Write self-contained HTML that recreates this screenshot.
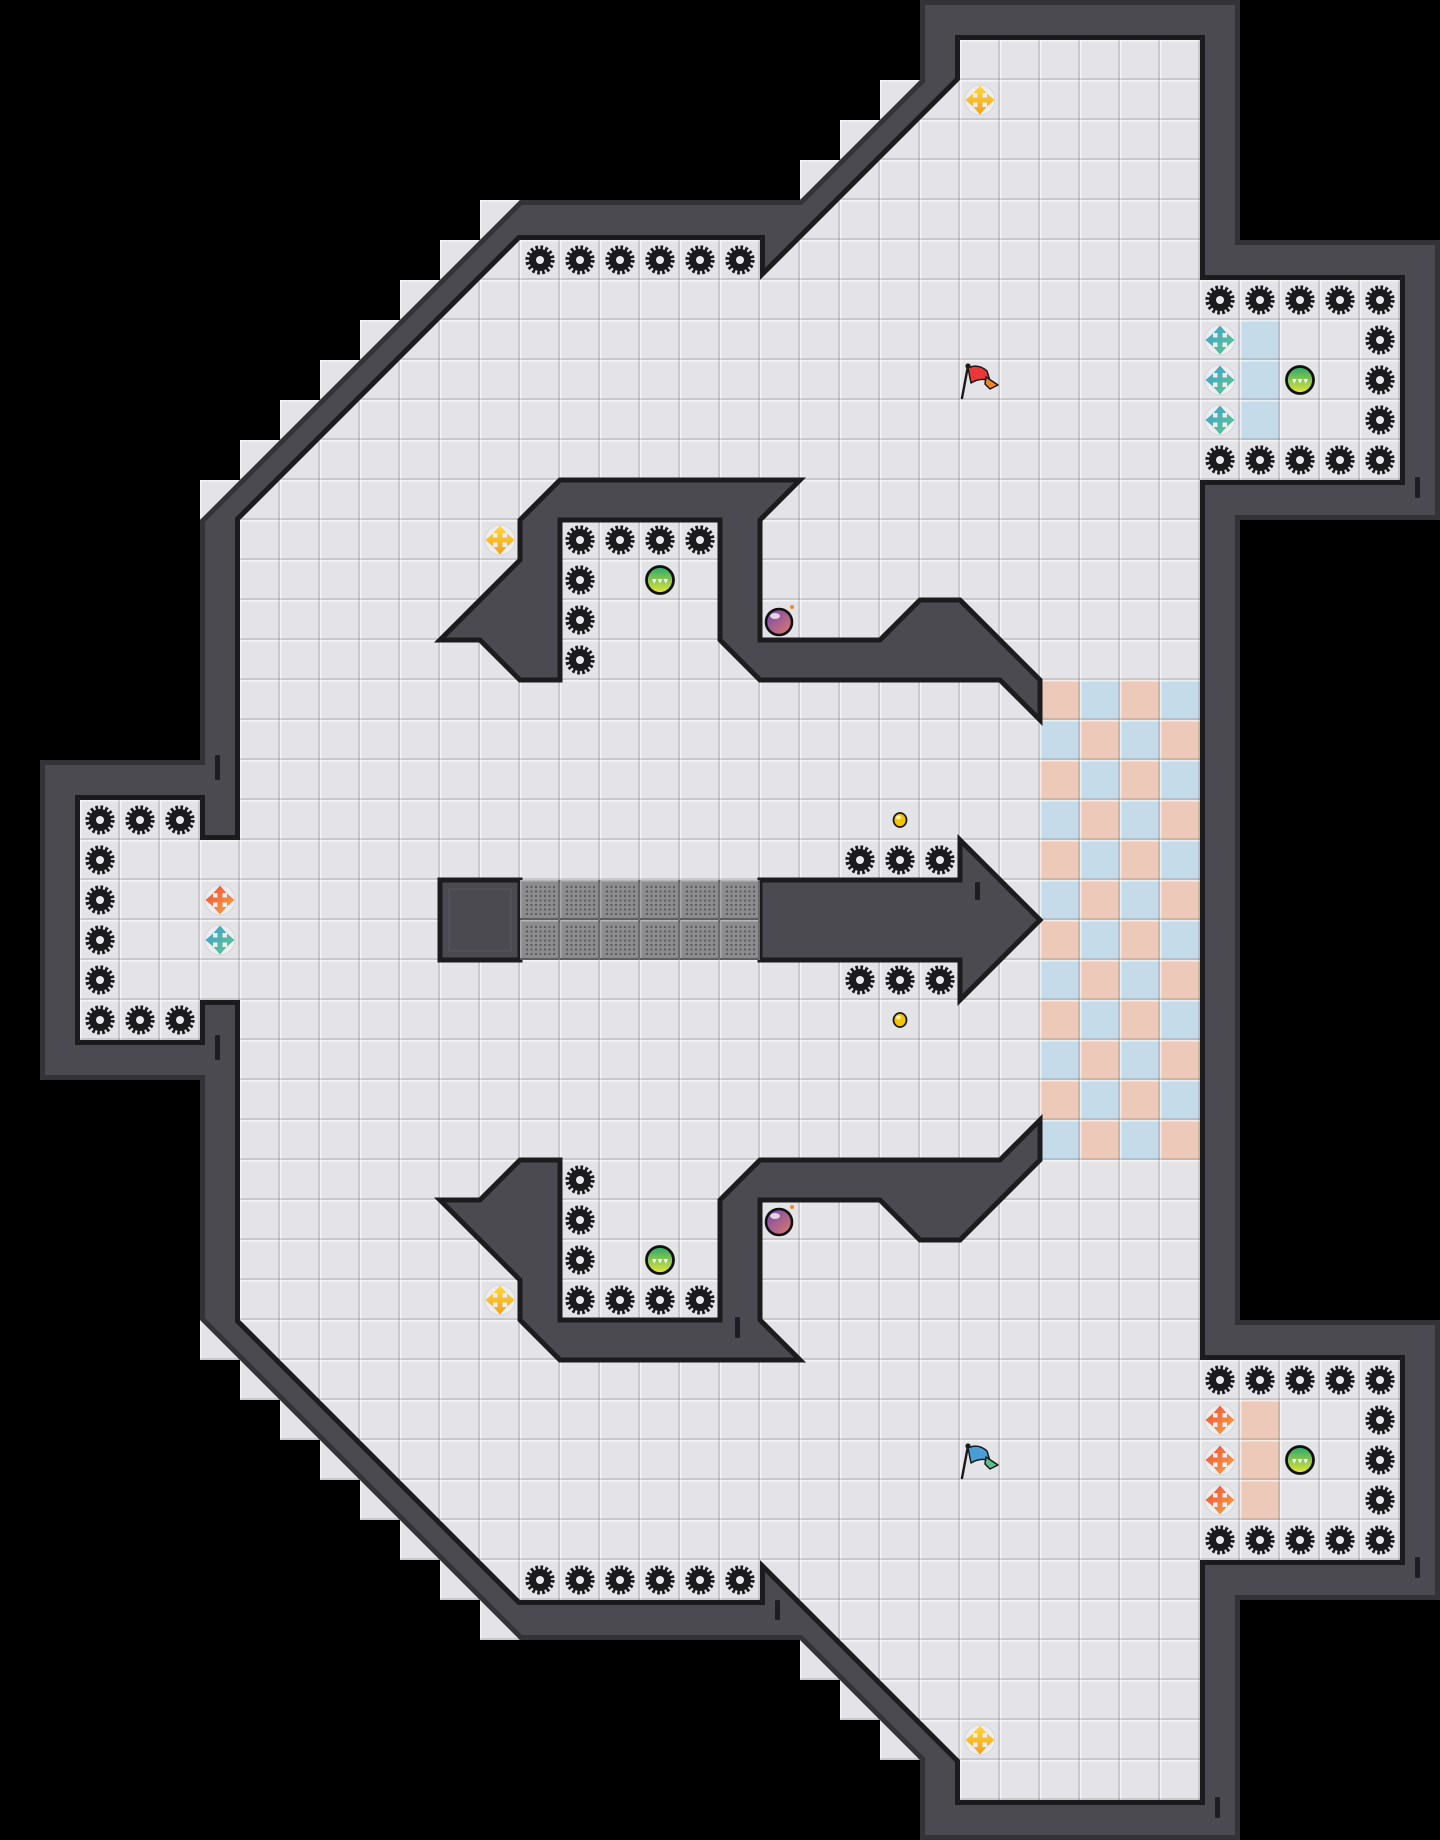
<!DOCTYPE html>
<html>
<head>
<meta charset="utf-8">
<style>
html,body{margin:0;padding:0;background:#000;}
svg{display:block;}
</style>
</head>
<body>
<svg xmlns="http://www.w3.org/2000/svg" width="1440" height="1840" viewBox="0 0 1440 1840">
<defs>
  <pattern id="bev" width="40" height="40" patternUnits="userSpaceOnUse">
    <rect x="0" y="0" width="40" height="1.5" fill="#ffffff" fill-opacity="0.6"/>
    <rect x="0" y="0" width="1.5" height="40" fill="#ffffff" fill-opacity="0.6"/>
    <rect x="0" y="38" width="40" height="2" fill="#000" fill-opacity="0.12"/>
    <rect x="38" y="0" width="2" height="40" fill="#000" fill-opacity="0.12"/>
  </pattern>
  <pattern id="chk" width="80" height="80" patternUnits="userSpaceOnUse">
    <rect x="0" y="0" width="80" height="80" fill="#c6dbe9"/>
    <rect x="40" y="0" width="40" height="40" fill="#ecc9b8"/>
    <rect x="0" y="40" width="40" height="40" fill="#ecc9b8"/>
  </pattern>
  <pattern id="grate" width="40" height="40" patternUnits="userSpaceOnUse">
    <rect x="0" y="0" width="40" height="40" fill="#8c8c8f"/>
    <rect x="0" y="0" width="40" height="1.5" fill="#b4b4b6"/>
    <rect x="0" y="0" width="1.5" height="40" fill="#a8a8aa"/>
    <rect x="0" y="38" width="40" height="2" fill="#5e5e61"/>
    <rect x="38" y="0" width="2" height="40" fill="#6a6a6d"/>
    <path d="M6 7H36M6 11.5H36M6 16H36M6 20.5H36M6 25H36M6 29.5H36M6 34H36" stroke="#5c5c5f" stroke-width="2" stroke-dasharray="2 2.5"/>
  </pattern>
  <clipPath id="oc">
    <polygon points="920,0 1240,0 1240,240 1440,240 1440,520 1240,520 1240,1320 1440,1320 1440,1600 1240,1600 1240,1840 920,1840 920,1760 800,1640 520,1640 200,1320 200,1080 40,1080 40,760 200,760 200,520 520,200 800,200 920,80"/>
  </clipPath>
  <clipPath id="fc">
    <polygon points="960,40 1200,40 1200,280 1400,280 1400,480 1200,480 1200,1360 1400,1360 1400,1560 1200,1560 1200,1800 960,1800 960,1760 760,1560 760,1600 520,1600 240,1320 240,1000 200,1000 200,1040 80,1040 80,800 200,800 200,840 240,840 240,520 520,240 760,240 760,280 960,80"/>
  </clipPath>
  <linearGradient id="gy" x1="0" y1="0" x2="0" y2="1"><stop offset="0" stop-color="#ffd93c"/><stop offset="1" stop-color="#f2a01a"/></linearGradient>
  <linearGradient id="gt" x1="0" y1="0" x2="1" y2="1"><stop offset="0" stop-color="#3f9dd2"/><stop offset="1" stop-color="#5fca88"/></linearGradient>
  <linearGradient id="go" x1="0" y1="0" x2="1" y2="1"><stop offset="0" stop-color="#ee4c3a"/><stop offset="1" stop-color="#f8a842"/></linearGradient>
  <linearGradient id="gb" x1="0" y1="0" x2="0" y2="1"><stop offset="0" stop-color="#27a866"/><stop offset="1" stop-color="#e8e63a"/></linearGradient>
  <linearGradient id="gp" x1="0" y1="0" x2="1" y2="1"><stop offset="0" stop-color="#6f46b2"/><stop offset="1" stop-color="#e27c68"/></linearGradient>

  <g id="gear">
    <circle r="11" fill="#1b1b1d"/>
    <circle r="12.3" fill="none" stroke="#1b1b1d" stroke-width="4.6" stroke-dasharray="2.6 2.23"/>
    <circle r="4" fill="#e9e9ed"/>
  </g>
  <path id="arr" d="M-2.5 -7L-6.5 -7L0 -14.5L6.5 -7L2.5 -7L2.5 -2.5L7 -2.5L7 -6.5L14.5 0L7 6.5L7 2.5L2.5 2.5L2.5 7L6.5 7L0 14.5L-6.5 7L-2.5 7L-2.5 2.5L-7 2.5L-7 6.5L-14.5 0L-7 -6.5L-7 -2.5L-2.5 -2.5Z"/>
  <circle id="cbg" r="15" fill="#ededf0" stroke="#d6d6db" stroke-width="1"/>
  <g id="cy"><use href="#cbg"/><use href="#arr" fill="url(#gy)"/></g>
  <g id="ct"><use href="#cbg"/><use href="#arr" fill="url(#gt)"/></g>
  <g id="co"><use href="#cbg"/><use href="#arr" fill="url(#go)"/></g>
  <g id="ball">
    <circle r="13.5" fill="url(#gb)" stroke="#111" stroke-width="2.8"/>
    <path d="M-8 -1L-3.5 -1L-5.75 3.5ZM-2.25 -1L2.25 -1L0 3.5ZM3.5 -1L8 -1L5.75 3.5Z" fill="#fff"/>
  </g>
  <g id="bomb">
    <circle r="13" fill="url(#gp)" stroke="#111" stroke-width="2.6"/>
    <ellipse cx="-4" cy="-6" rx="5" ry="3" fill="#fff" fill-opacity="0.75"/>
    <circle cx="13" cy="-15" r="2" fill="#f08a1e"/>
  </g>
  <g id="dot">
    <ellipse rx="6.5" ry="7" fill="#f5c400" stroke="#1a1a1a" stroke-width="1.8"/>
    <ellipse cx="-1.5" cy="-2.5" rx="2.5" ry="2" fill="#fff3a0"/>
  </g>
</defs>

<rect x="0" y="0" width="1440" height="1840" fill="#000"/>

<!-- staircase light squares outside diagonals -->
<g id="stairs">
  <rect x="200" y="480" width="40" height="40"/>
  <rect x="240" y="440" width="40" height="40"/>
  <rect x="280" y="400" width="40" height="40"/>
  <rect x="320" y="360" width="40" height="40"/>
  <rect x="360" y="320" width="40" height="40"/>
  <rect x="400" y="280" width="40" height="40"/>
  <rect x="440" y="240" width="40" height="40"/>
  <rect x="480" y="200" width="40" height="40"/>
  <rect x="800" y="160" width="40" height="40"/>
  <rect x="840" y="120" width="40" height="40"/>
  <rect x="880" y="80" width="40" height="40"/>
  <rect x="200" y="1320" width="40" height="40"/>
  <rect x="240" y="1360" width="40" height="40"/>
  <rect x="280" y="1400" width="40" height="40"/>
  <rect x="320" y="1440" width="40" height="40"/>
  <rect x="360" y="1480" width="40" height="40"/>
  <rect x="400" y="1520" width="40" height="40"/>
  <rect x="440" y="1560" width="40" height="40"/>
  <rect x="480" y="1600" width="40" height="40"/>
  <rect x="800" y="1640" width="40" height="40"/>
  <rect x="840" y="1680" width="40" height="40"/>
  <rect x="880" y="1720" width="40" height="40"/>
</g>
<use href="#stairs" fill="#e3e3e8"/>
<use href="#stairs" fill="url(#bev)"/>

<!-- outer walls -->
<polygon clip-path="url(#oc)" fill="#4b4a50" stroke="#343338" stroke-width="10" stroke-linejoin="miter"
  points="920,0 1240,0 1240,240 1440,240 1440,520 1240,520 1240,1320 1440,1320 1440,1600 1240,1600 1240,1840 920,1840 920,1760 800,1640 520,1640 200,1320 200,1080 40,1080 40,760 200,760 200,520 520,200 800,200 920,80"/>

<!-- floor -->
<polygon fill="#e3e3e8" stroke="#1c1c1f" stroke-width="10" style="paint-order:stroke" stroke-linejoin="miter"
  points="960,40 1200,40 1200,280 1400,280 1400,480 1200,480 1200,1360 1400,1360 1400,1560 1200,1560 1200,1800 960,1800 960,1760 760,1560 760,1600 520,1600 240,1320 240,1000 200,1000 200,1040 80,1040 80,800 200,800 200,840 240,840 240,520 520,240 760,240 760,280 960,80"/>

<!-- colored tiles -->
<rect x="1040" y="680" width="160" height="480" fill="url(#chk)"/>
<rect x="1240" y="320" width="40" height="120" fill="#c6dbe9"/>
<rect x="1240" y="1400" width="40" height="120" fill="#ecc9b8"/>

<!-- tile bevel overlay -->
<rect x="0" y="0" width="1440" height="1840" fill="url(#bev)" clip-path="url(#fc)"/>

<!-- interior obstacles -->
<g fill="#4b4a50" stroke="#1c1c1f" stroke-width="5" stroke-linejoin="miter">
  <polygon points="560,480 800,480 760,520 760,640 880,640 920,600 960,600 1040,680 1040,720 1000,680 760,680 720,640 720,520 560,520 560,680 520,680 480,640 440,640 520,560 520,520"/>
  <polygon points="560,1360 800,1360 760,1320 760,1200 880,1200 920,1240 960,1240 1040,1160 1040,1120 1000,1160 760,1160 720,1200 720,1320 560,1320 560,1160 520,1160 480,1200 440,1200 520,1280 520,1320"/>
  <rect x="440" y="880" width="80" height="80"/>
  <polygon points="760,880 960,880 960,840 1040,920 960,1000 960,960 760,960"/>
</g>
<rect x="449" y="889" width="62" height="62" fill="none" stroke="#56555b" stroke-width="1.2"/>
<rect x="520" y="880" width="240" height="80" fill="url(#grate)"/>

<!-- notch marks -->
<g fill="#1e1e21">
  <rect x="1415" y="477" width="5" height="21" rx="1.5"/>
  <rect x="215" y="755" width="5" height="25" rx="1.5"/>
  <rect x="215" y="1035" width="5" height="25" rx="1.5"/>
  <rect x="975" y="882" width="5" height="18" rx="1.5"/>
  <rect x="735" y="1317" width="5" height="21" rx="1.5"/>
  <rect x="775" y="1600" width="5" height="20" rx="1.5"/>
  <rect x="1415" y="1557" width="5" height="21" rx="1.5"/>
  <rect x="1215" y="1797" width="5" height="21" rx="1.5"/>
</g>

<!-- gears -->
<g>
  <use href="#gear" x="540" y="260"/><use href="#gear" x="580" y="260"/><use href="#gear" x="620" y="260"/><use href="#gear" x="660" y="260"/><use href="#gear" x="700" y="260"/><use href="#gear" x="740" y="260"/>
  <use href="#gear" x="540" y="1580"/><use href="#gear" x="580" y="1580"/><use href="#gear" x="620" y="1580"/><use href="#gear" x="660" y="1580"/><use href="#gear" x="700" y="1580"/><use href="#gear" x="740" y="1580"/>

  <use href="#gear" x="1220" y="300"/><use href="#gear" x="1260" y="300"/><use href="#gear" x="1300" y="300"/><use href="#gear" x="1340" y="300"/><use href="#gear" x="1380" y="300"/>
  <use href="#gear" x="1220" y="460"/><use href="#gear" x="1260" y="460"/><use href="#gear" x="1300" y="460"/><use href="#gear" x="1340" y="460"/><use href="#gear" x="1380" y="460"/>
  <use href="#gear" x="1380" y="340"/><use href="#gear" x="1380" y="380"/><use href="#gear" x="1380" y="420"/>

  <use href="#gear" x="1220" y="1380"/><use href="#gear" x="1260" y="1380"/><use href="#gear" x="1300" y="1380"/><use href="#gear" x="1340" y="1380"/><use href="#gear" x="1380" y="1380"/>
  <use href="#gear" x="1220" y="1540"/><use href="#gear" x="1260" y="1540"/><use href="#gear" x="1300" y="1540"/><use href="#gear" x="1340" y="1540"/><use href="#gear" x="1380" y="1540"/>
  <use href="#gear" x="1380" y="1420"/><use href="#gear" x="1380" y="1460"/><use href="#gear" x="1380" y="1500"/>

  <use href="#gear" x="580" y="540"/><use href="#gear" x="620" y="540"/><use href="#gear" x="660" y="540"/><use href="#gear" x="700" y="540"/>
  <use href="#gear" x="580" y="580"/><use href="#gear" x="580" y="620"/><use href="#gear" x="580" y="660"/>

  <use href="#gear" x="580" y="1180"/><use href="#gear" x="580" y="1220"/><use href="#gear" x="580" y="1260"/>
  <use href="#gear" x="580" y="1300"/><use href="#gear" x="620" y="1300"/><use href="#gear" x="660" y="1300"/><use href="#gear" x="700" y="1300"/>

  <use href="#gear" x="860" y="860"/><use href="#gear" x="900" y="860"/><use href="#gear" x="940" y="860"/>
  <use href="#gear" x="860" y="980"/><use href="#gear" x="900" y="980"/><use href="#gear" x="940" y="980"/>

  <use href="#gear" x="100" y="820"/><use href="#gear" x="140" y="820"/><use href="#gear" x="180" y="820"/>
  <use href="#gear" x="100" y="1020"/><use href="#gear" x="140" y="1020"/><use href="#gear" x="180" y="1020"/>
  <use href="#gear" x="100" y="860"/><use href="#gear" x="100" y="900"/><use href="#gear" x="100" y="940"/><use href="#gear" x="100" y="980"/>
</g>

<!-- crosses -->
<use href="#cy" x="980" y="100"/>
<use href="#cy" x="500" y="540"/>
<use href="#cy" x="500" y="1300"/>
<use href="#cy" x="980" y="1740"/>
<use href="#ct" x="1220" y="340"/><use href="#ct" x="1220" y="380"/><use href="#ct" x="1220" y="420"/>
<use href="#co" x="1220" y="1420"/><use href="#co" x="1220" y="1460"/><use href="#co" x="1220" y="1500"/>
<use href="#co" x="220" y="900"/>
<use href="#ct" x="220" y="940"/>

<!-- balls, bombs, dots -->
<use href="#ball" x="1300" y="380"/>
<use href="#ball" x="660" y="580"/>
<use href="#ball" x="660" y="1260"/>
<use href="#ball" x="1300" y="1460"/>
<use href="#bomb" x="779" y="622"/>
<use href="#bomb" x="779" y="1222"/>
<use href="#dot" x="900" y="820"/>
<use href="#dot" x="900" y="1020"/>

<!-- flags -->
<g transform="translate(960,360)">
  <line x1="2" y1="38" x2="8" y2="6" stroke="#1a1a1a" stroke-width="2.4" stroke-linecap="round"/>
  <circle cx="8" cy="6" r="2.6" fill="#1a1a1a"/>
  <path d="M8 8 Q18 3 27 11 L30 21 Q21 17 11 23 Z" fill="#e8383a" stroke="#1a1a1a" stroke-width="1.5" stroke-linejoin="round"/>
  <path d="M26 17 L38 25 L30 29 Q27 26 25 24 Z" fill="#f0842a" stroke="#1a1a1a" stroke-width="1.5" stroke-linejoin="round"/>
</g>
<g transform="translate(960,1440)">
  <line x1="2" y1="38" x2="8" y2="6" stroke="#1a1a1a" stroke-width="2.4" stroke-linecap="round"/>
  <circle cx="8" cy="6" r="2.6" fill="#1a1a1a"/>
  <path d="M8 8 Q18 3 27 11 L30 21 Q21 17 11 23 Z" fill="#4a9ed6" stroke="#1a1a1a" stroke-width="1.5" stroke-linejoin="round"/>
  <path d="M26 17 L38 25 L30 29 Q27 26 25 24 Z" fill="#5cc08c" stroke="#1a1a1a" stroke-width="1.5" stroke-linejoin="round"/>
</g>
</svg>
</body>
</html>
